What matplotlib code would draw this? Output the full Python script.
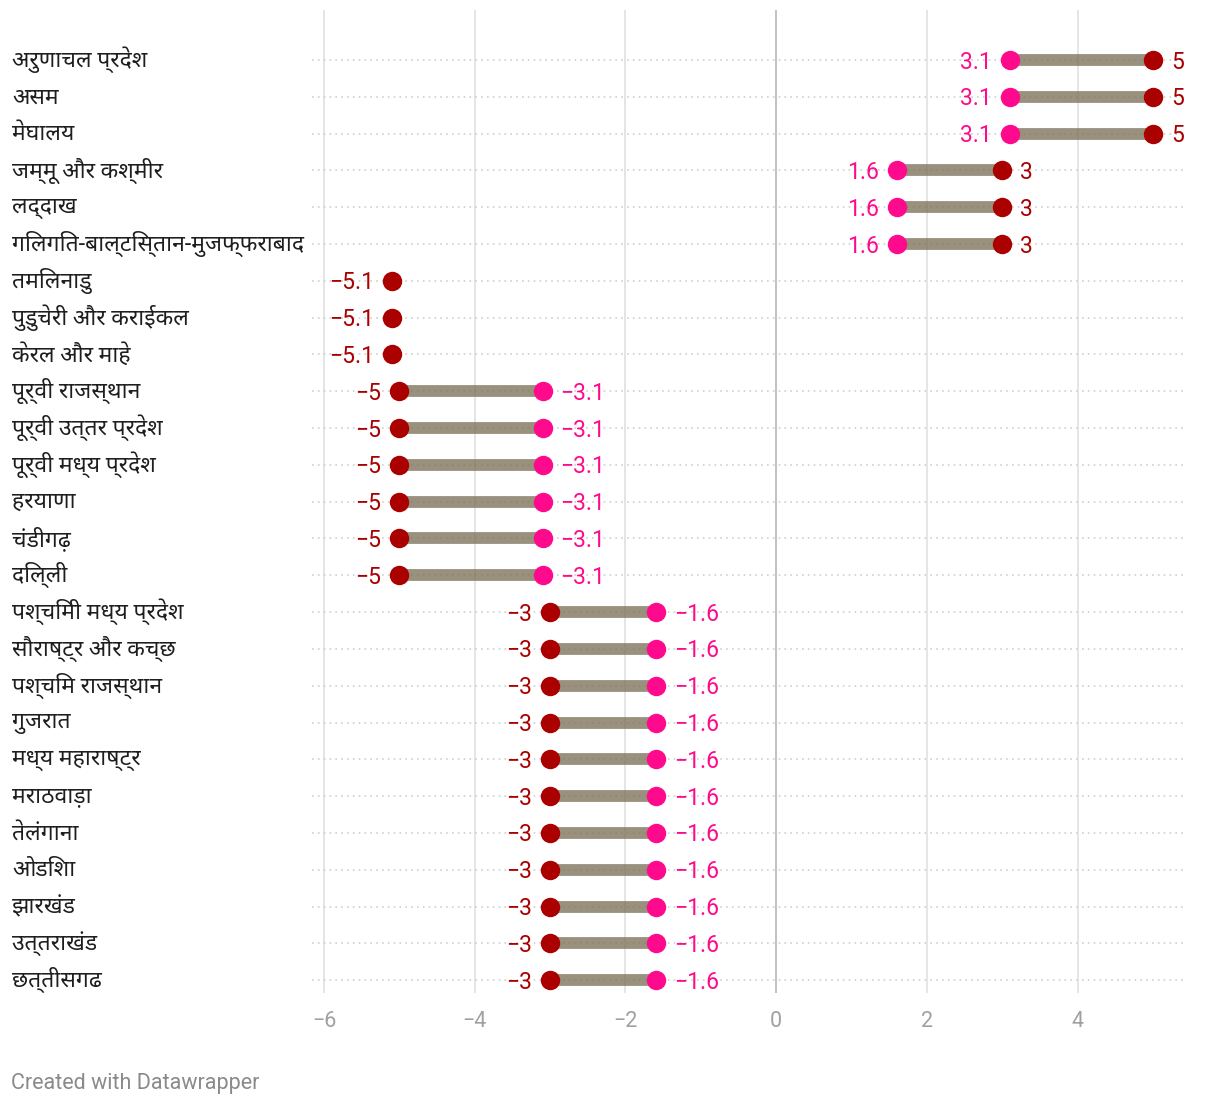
import numpy as np
import matplotlib
matplotlib.use("Agg")
import matplotlib.pyplot as plt
from matplotlib import font_manager
import matplotlib.transforms as mtransforms

installed = {f.name for f in font_manager.fontManager.ttflist}


def pick(*names):
    return [n for n in names if n in installed]


deva = pick("Noto Sans Devanagari", "Hind", "Mukta", "Ek Mukta", "FreeSans")[:1]
text_fonts = pick("Roboto") + deva + ["DejaVu Sans"]
plt.rcParams["font.family"] = text_fonts

regions = [
    "अरुणाचल प्रदेश", "असम", "मेघालय", "जम्मू और कश्मीर", "लद्दाख",
    "गिलगित-बाल्टिस्तान-मुजफ्फराबाद", "तमिलनाडु", "पुडुचेरी और कराईकल",
    "केरल और माहे", "पूर्वी राजस्थान", "पूर्वी उत्तर प्रदेश", "पूर्वी मध्य प्रदेश",
    "हरयाणा", "चंडीगढ़", "दिल्ली", "पश्चिमी मध्य प्रदेश", "सौराष्ट्र और कच्छ",
    "पश्चिम राजस्थान", "गुजरात", "मध्य महाराष्ट्र", "मराठवाड़ा", "तेलंगाना",
    "ओडिशा", "झारखंड", "उत्तराखंड", "छत्तीसगढ",
]
red_vals = [5, 5, 5, 3, 3, 3, -5.1, -5.1, -5.1,
            -5, -5, -5, -5, -5, -5,
            -3, -3, -3, -3, -3, -3, -3, -3, -3, -3, -3]
pink_vals = [3.1, 3.1, 3.1, 1.6, 1.6, 1.6, np.nan, np.nan, np.nan,
             -3.1, -3.1, -3.1, -3.1, -3.1, -3.1,
             -1.6, -1.6, -1.6, -1.6, -1.6, -1.6, -1.6, -1.6, -1.6, -1.6, -1.6]
xticks = [-6, -4, -2, 0, 2, 4]

RED = "#aa0000"
PINK = "#ff0a8c"
BAR = "#7d7258"

fig = plt.figure(figsize=(12.2, 11.08), dpi=100)
ax = fig.add_axes([312 / 1220, 1 - 993 / 1108, (1186 - 312) / 1220, 983 / 1108])

y = np.arange(len(regions))
red = np.array(red_vals, dtype=float)
pink = np.array(pink_vals, dtype=float)

# dotted row guides
for yi in y:
    ax.axhline(yi, color="#cfcfcf", lw=1.2, ls=(0, (1, 2.5)), zorder=1)

# vertical grid
for t in xticks:
    ax.axvline(t, color="#bdbdbd" if t == 0 else "#e3e3e3", lw=1.3, zorder=0.5)

# range bars
has_pair = ~np.isnan(pink)
ax.hlines(y[has_pair], pink[has_pair], red[has_pair], color=BAR, alpha=0.78,
          lw=8.5, zorder=2, capstyle="butt")

ax.plot(pink, y, "o", color=PINK, ms=14, mew=0, zorder=3)
ax.plot(red, y, "o", color=RED, ms=14, mew=0, zorder=4)


def fmt(v):
    s = f"{v:g}"
    return s.replace("-", "\u2212")


VFS = 16.5
for yi, r, p in zip(y, red, pink):
    if np.isnan(p):
        ax.annotate(fmt(r), (r, yi), xytext=(-13, -1.5), textcoords="offset points",
                    ha="right", va="center", color=RED, fontsize=VFS)
        continue
    lo_v, hi_v = (r, p) if r < p else (p, r)
    lo_c = RED if r < p else PINK
    hi_c = PINK if r < p else RED
    ax.annotate(fmt(lo_v), (lo_v, yi), xytext=(-13, -1.5), textcoords="offset points",
                ha="right", va="center", color=lo_c, fontsize=VFS)
    ax.annotate(fmt(hi_v), (hi_v, yi), xytext=(13, -1.5), textcoords="offset points",
                ha="left", va="center", color=hi_c, fontsize=VFS)

# row labels at left edge of figure
trans = mtransforms.blended_transform_factory(fig.transFigure, ax.transData)
for yi, name in zip(y, regions):
    ax.text(12 / 1220, yi, name, transform=trans, ha="left", va="center",
            fontsize=16.5, color="#1e1e1e", clip_on=False)

ax.set_xlim(-6.16, 5.44)
ax.set_ylim(25.35, -1.36)
ax.set_xticks(xticks)
ax.set_xticklabels([fmt(t) for t in xticks])
ax.set_yticks([])
ax.tick_params(axis="x", length=0, pad=13, labelsize=15.5, labelcolor="#a0a0a0")
for s in ax.spines.values():
    s.set_visible(False)

fig.text(11 / 1220, 1 - 1083 / 1108, "Created with Datawrapper", color="#8a8a8a",
         fontsize=15.5, ha="left", va="center")

fig.savefig("out.png", dpi=100)
